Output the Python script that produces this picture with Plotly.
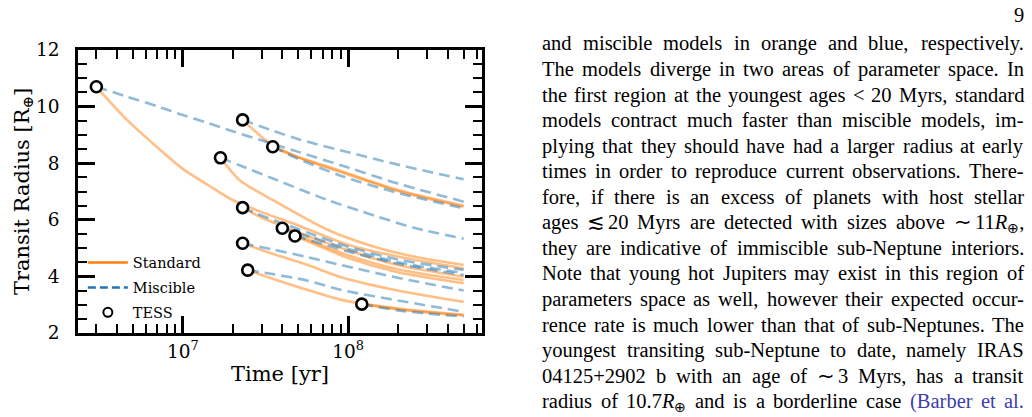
import re
import plotly.graph_objects as go

# ---------------- data ----------------
tess_age = [3.0e6, 2.3e7, 1.69e7, 3.5e7, 2.3e7, 4.0e7, 4.77e7, 2.3e7, 2.47e7, 1.21e8]
tess_radius = [10.70, 9.53, 8.19, 8.58, 6.43, 5.70, 5.43, 5.17, 4.22, 3.02]

p1_time = [3.0e6, 4.6e6, 7.3e6, 1.0e7, 1.42e7, 2.0e7, 2.95e7, 5.0e7, 1.0e8, 2.0e8, 5.0e8]
p1_std = [10.70, 9.53, 8.47, 7.80, 7.23, 6.70, 6.29, 5.80, 5.12, 4.70, 4.28]
p1_mis = [10.70, 10.35, 9.98, 9.70, 9.42, 9.13, 8.82, 8.40, 7.85, 7.28, 6.64]

p2_time = [2.3e7, 3.5e7, 5.0e7, 9.1e7, 2.0e8, 5.0e8]
p2_std = [9.53, 8.62, 8.20, 7.68, 7.02, 6.46]
p2_mis = [9.53, 9.15, 8.85, 8.45, 7.95, 7.43]

p3_time = [1.69e7, 2.2e7, 3.5e7, 7.5e7, 1.44e8, 2.5e8, 5.0e8]
p3_std = [8.19, 7.41, 6.70, 5.65, 5.05, 4.70, 4.40]
p3_mis = [8.19, 7.93, 7.46, 6.70, 6.15, 5.72, 5.33]

p4_time = [3.5e7, 5.0e7, 9.1e7, 2.0e8, 5.0e8]
p4_std = [8.58, 8.22, 7.72, 7.05, 6.50]
p4_mis = [8.58, 8.15, 7.55, 6.95, 6.41]

p5_time = [2.3e7, 3.0e7, 4.0e7, 6.0e7, 1.0e8, 2.0e8, 5.0e8]
p5_std = [6.43, 6.08, 5.78, 5.38, 4.92, 4.40, 3.99]
p5_mis = [6.43, 6.15, 5.88, 5.50, 5.05, 4.60, 4.23]

p6_time = [4.0e7, 6.0e7, 1.0e8, 2.0e8, 5.0e8]
p6_std = [5.70, 5.25, 4.75, 4.25, 3.87]
p6_mis = [5.70, 5.38, 4.97, 4.50, 4.12]

p7_time = [4.77e7, 7.0e7, 1.0e8, 2.0e8, 5.0e8]
p7_std = [5.43, 5.02, 4.65, 4.15, 3.76]
p7_mis = [5.43, 5.15, 4.88, 4.45, 4.05]

p8_time = [2.3e7, 3.5e7, 5.7e7, 9.1e7, 2.0e8, 5.0e8]
p8_std = [5.17, 4.80, 4.40, 3.97, 3.50, 3.10]
p8_mis = [5.17, 4.95, 4.68, 4.40, 3.95, 3.50]

p9_time = [2.47e7, 3.5e7, 5.7e7, 9.1e7, 2.0e8, 5.0e8]
p9_std = [4.22, 3.92, 3.52, 3.17, 2.86, 2.64]
p9_mis = [4.22, 4.08, 3.85, 3.52, 3.15, 2.75]

p10_time = [1.21e8, 2.0e8, 3.0e8, 5.0e8]
p10_std = [3.02, 2.84, 2.73, 2.62]
p10_mis = [3.02, 2.80, 2.69, 2.58]

x_tick_vals = [1e7, 1e8]
x_tick_text = ["10<sup>7</sup>", "10<sup>8</sup>"]
x_minor_vals = [3e6, 4e6, 5e6, 6e6, 7e6, 8e6, 9e6,
                2e7, 3e7, 4e7, 5e7, 6e7, 7e7, 8e7, 9e7,
                2e8, 3e8, 4e8, 5e8, 6e8]
y_tick_vals = [2, 4, 6, 8, 10, 12]
y_tick_text = ["2", "4", "6", "8", "10", "12"]

page_number = "9"
paragraph_lines = [
    "and miscible models in orange and blue, respectively.",
    "The models diverge in two areas of parameter space. In",
    "the first region at the youngest ages &lt; 20 Myrs, standard",
    "models contract much faster than miscible models, im-",
    "plying that they should have had a larger radius at early",
    "times in order to reproduce current observations. There-",
    "fore, if there is an excess of planets with host stellar",
    "ages ≲ 20 Myrs are detected with sizes above ∼ 11<i>R</i><sub>⊕</sub>,",
    "they are indicative of immiscible sub-Neptune interiors.",
    "Note that young hot Jupiters may exist in this region of",
    "parameters space as well, however their expected occur-",
    "rence rate is much lower than that of sub-Neptunes. The",
    "youngest transiting sub-Neptune to date, namely IRAS",
    "04125+2902 b with an age of ∼ 3 Myrs, has a transit",
    "radius of 10.7<i>R</i><sub>⊕</sub> and is a borderline case (Barber et al.",
]
cite_words = ["(Barber", "et", "al."]

# ---------------- styling ----------------
ORANGE = "rgba(255,127,14,0.5)"
BLUE = "rgba(31,119,180,0.5)"
FONT = "DejaVu Serif"

W, H = 1032, 417
PL, PR, PT, PB = 78, 482, 50, 333   # plot area in pixels
XR = [6.366, 8.81]                   # log10 range
YR = [2, 12]

fig = go.Figure()

planets = [
    (p1_time, p1_std, p1_mis), (p2_time, p2_std, p2_mis), (p3_time, p3_std, p3_mis),
    (p4_time, p4_std, p4_mis), (p5_time, p5_std, p5_mis), (p6_time, p6_std, p6_mis),
    (p7_time, p7_std, p7_mis), (p8_time, p8_std, p8_mis), (p9_time, p9_std, p9_mis),
    (p10_time, p10_std, p10_mis),
]

for t, s, m in planets:
    fig.add_trace(go.Scatter(x=t, y=s, mode="lines", showlegend=False, hoverinfo="skip",
                             line=dict(color=ORANGE, width=2.6, shape="spline", smoothing=0.8)))
for t, s, m in planets:
    fig.add_trace(go.Scatter(x=t, y=m, mode="lines", showlegend=False, hoverinfo="skip",
                             line=dict(color=BLUE, width=2.6, dash="11px,6px",
                                       shape="spline", smoothing=0.8)))

fig.add_trace(go.Scatter(x=tess_age, y=tess_radius, mode="markers", showlegend=False,
                         marker=dict(symbol="circle", size=11, color="white",
                                     line=dict(color="black", width=2.6))))

# legend entries
fig.add_trace(go.Scatter(x=[None], y=[None], mode="lines", name="Standard", legendgroup="a",
                         line=dict(color="#ff7f0e", width=2.5)))
fig.add_trace(go.Scatter(x=[None], y=[None], mode="lines", name="Miscible", legendgroup="b",
                         line=dict(color="#1f77b4", width=2.5, dash="8px,4px")))
fig.add_trace(go.Scatter(x=[None], y=[None], mode="markers", name="TESS", legendgroup="c",
                         marker=dict(symbol="circle", size=9, color="white",
                                     line=dict(color="black", width=2))))

tickfont = dict(family=FONT, size=18.5, color="black")

xaxis = dict(type="log", range=XR, tickmode="array", tickvals=x_tick_vals,
             ticktext=x_tick_text, showline=True, linecolor="black", linewidth=2.5,
             mirror="ticks", ticks="inside", ticklen=17, tickwidth=2.6, tickcolor="black",
             minor=dict(ticks="inside", tickmode="array", tickvals=x_minor_vals,
                        ticklen=9, tickwidth=2.2, tickcolor="black", showgrid=False),
             showgrid=False, zeroline=False, tickfont=tickfont, automargin=False,
             title=dict(text="Time [yr]", font=dict(family=FONT, size=21, color="black"),
                        standoff=6))
yaxis = dict(range=YR, tickmode="array", tickvals=y_tick_vals, ticktext=y_tick_text,
             showline=True, linecolor="black", linewidth=2.5,
             mirror="ticks", ticks="inside", ticklen=17, tickwidth=2.6, tickcolor="black",
             minor=dict(ticks="inside", tickmode="linear", tick0=2, dtick=0.5,
                        ticklen=9, tickwidth=2.2, tickcolor="black", showgrid=False),
             showgrid=False, zeroline=False, tickfont=tickfont, automargin=False,
             ticklabelstandoff=12,
             title=dict(text="Transit Radius [R<sub>⊕</sub>]",
                        font=dict(family=FONT, size=21, color="black"), standoff=1))

# ---------------- page text (justified paragraph) ----------------
TIMES_W = {' ': 250, 'a': 444, 'b': 500, 'c': 444, 'd': 500, 'e': 444, 'f': 333, 'g': 500,
           'h': 500, 'i': 278, 'j': 278, 'k': 500, 'l': 278, 'm': 778, 'n': 500, 'o': 500,
           'p': 500, 'q': 500, 'r': 333, 's': 389, 't': 278, 'u': 500, 'v': 500, 'w': 722,
           'x': 500, 'y': 500, 'z': 444, 'A': 722, 'B': 667, 'C': 667, 'D': 722, 'E': 611,
           'F': 556, 'G': 722, 'H': 722, 'I': 333, 'J': 389, 'K': 722, 'L': 611, 'M': 889,
           'N': 722, 'O': 722, 'P': 556, 'Q': 722, 'R': 667, 'S': 556, 'T': 611, 'U': 722,
           'V': 722, 'W': 944, 'X': 722, 'Y': 722, 'Z': 611, '.': 250, ',': 250, '-': 333,
           '(': 333, ')': 333, '+': 564, '<': 564, '∼': 541, '≲': 549, '⊕': 768}


def word_width(html, fs):
    total = 0.0
    for part in re.split(r'(<sub>.*?</sub>)', html):
        scale = 0.7 if part.startswith('<sub>') else 1.0
        plain = re.sub(r'<[^>]+>', '', part).replace('&lt;', '<')
        for ch in plain:
            total += TIMES_W.get(ch, 500) * scale
    return total / 1000.0 * fs


def px_x(x):
    return (x - PL) / (PR - PL)


def px_y(y):
    return (PB - y) / (PB - PT)


TEXT_FONT = "Liberation Serif"
FS = 20.5
TEXT_L, TEXT_R = 542, 1024
LINE0, STEP = 46, 25.55
CITE = "#3d3dab"

annotations = []
for i, line in enumerate(paragraph_lines):
    words = line.split(' ')
    widths = [word_width(w, FS) for w in words]
    gap = (TEXT_R - TEXT_L - sum(widths)) / (len(words) - 1)
    yc = LINE0 + i * STEP
    ytop = yc - 0.66 * FS
    x = TEXT_L
    for j, (w, wd) in enumerate(zip(words, widths)):
        col = CITE if (i == len(paragraph_lines) - 1 and w in cite_words) else "black"
        last = j == len(words) - 1
        annotations.append(dict(
            text=w, xref="paper", yref="paper",
            x=px_x(TEXT_R if last else x), y=px_y(ytop),
            xanchor="right" if last else "left", yanchor="top",
            showarrow=False, borderpad=0, borderwidth=0,
            font=dict(family=TEXT_FONT, size=FS, color=col)))
        x += wd + gap

annotations.append(dict(text=page_number, xref="paper", yref="paper",
                        x=px_x(TEXT_R + 2), y=px_y(15), xanchor="right", yanchor="middle",
                        showarrow=False, font=dict(family=TEXT_FONT, size=FS, color="black")))

fig.update_layout(
    width=W, height=H, autosize=False,
    margin=dict(l=PL, r=W - PR, t=PT, b=H - PB, pad=0, autoexpand=False),
    paper_bgcolor="white", plot_bgcolor="white",
    xaxis=xaxis, yaxis=yaxis,
    showlegend=True,
    legend=dict(x=0.012, y=0.305, xanchor="left", yanchor="top",
                bgcolor="rgba(0,0,0,0)", borderwidth=0,
                font=dict(family=FONT, size=14.5, color="black"),
                itemwidth=40, traceorder="grouped", tracegroupgap=3),
    annotations=annotations,
)

fig.write_html("out.html")
